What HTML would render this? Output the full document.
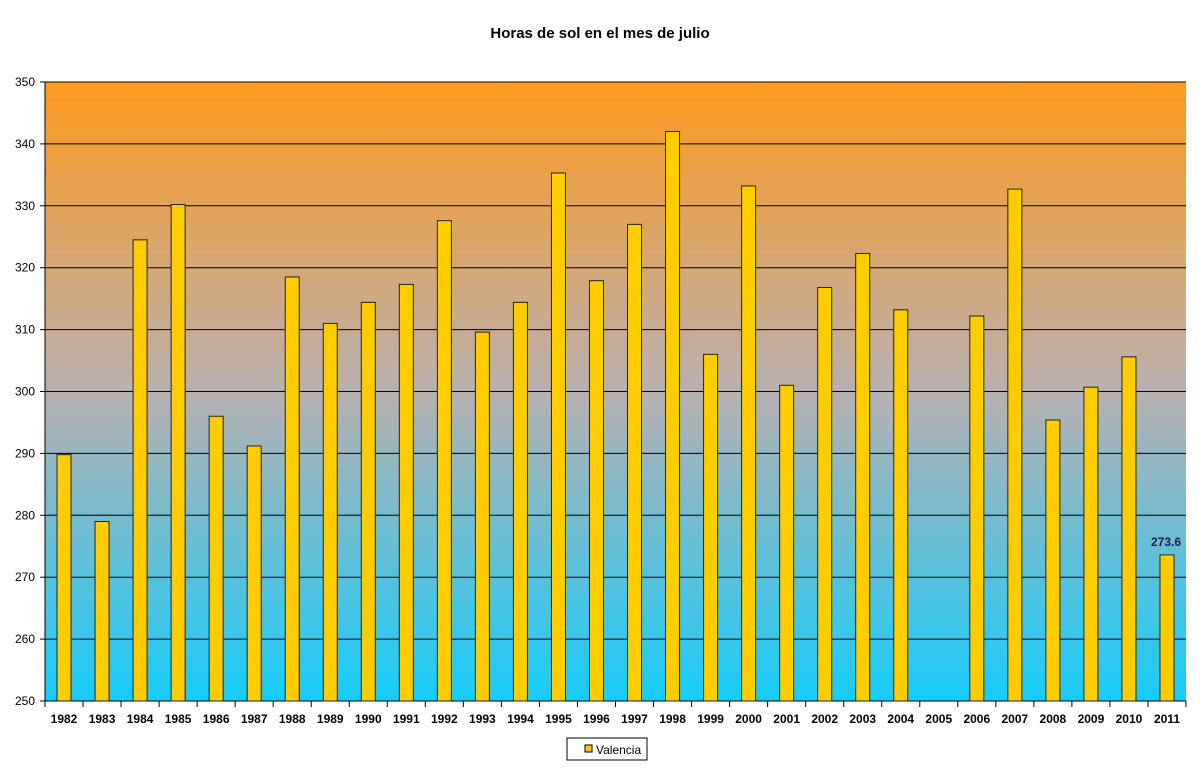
<!DOCTYPE html>
<html><head><meta charset="utf-8"><style>body{margin:0;background:#fff}svg{display:block}</style></head>
<body>
<svg id="c" width="1200" height="770" xmlns="http://www.w3.org/2000/svg" font-family="Liberation Sans, Arial, sans-serif">
<defs><linearGradient id="g" x1="0" y1="0" x2="0" y2="1">
<stop offset="0" stop-color="#ff9a1e"/><stop offset="0.5" stop-color="#b8b0b0"/><stop offset="1" stop-color="#16ccfa"/></linearGradient></defs>
<rect width="1200" height="770" fill="#fff"/>
<text x="600" y="38" text-anchor="middle" font-size="15" font-weight="bold">Horas de sol en el mes de julio</text>
<rect x="45" y="82" width="1141" height="619" fill="url(#g)"/>
<g id="grid"></g><g id="bars"></g><g id="lab"></g>
<text x="1166" y="546" text-anchor="middle" font-size="12" font-weight="bold" fill="#1a1a4a">273.6</text>
<rect x="567" y="738" width="80" height="22" fill="#fff" stroke="#000" stroke-width="1"/>
<rect x="585" y="745" width="7" height="7" fill="#ffcc00" stroke="#000" stroke-width="1"/>
<text x="596" y="754" font-size="12">Valencia</text>
</svg>
<script>
var ns="http://www.w3.org/2000/svg";
function el(p,t,a,txt){var e=document.createElementNS(ns,t);for(var k in a)e.setAttribute(k,a[k]);if(txt!=null)e.textContent=txt;document.getElementById(p).appendChild(e);}
var x0=45,x1=1186,yT=82,yB=701;function Y(v){return yB-(v-250)*(yB-yT)/100;}
for(var v=250;v<=350;v+=10){var y=Y(v);el("grid","line",{x1:x0,x2:x1,y1:y,y2:y,stroke:"#000","stroke-width":1});
el("grid","line",{x1:x0-5,x2:x0,y1:y,y2:y,stroke:"#000"});el("lab","text",{x:35,y:y+4,"text-anchor":"end","font-size":12},v);}
el("grid","line",{x1:x0,x2:x0,y1:yT,y2:yB,stroke:"#000"});
var d=[289.8,279,324.5,330.2,296,291.2,318.5,311,314.4,317.3,327.6,309.6,314.4,335.3,317.9,327,342,306,333.2,301,316.8,322.3,313.2,null,312.2,332.7,295.4,300.7,305.6,273.6];
var w=(x1-x0)/30;
for(var i=0;i<=30;i++){var x=x0+i*w;el("grid","line",{x1:x,x2:x,y1:yB,y2:yB+6,stroke:"#000"});}
for(var i=0;i<30;i++){var c=x0+(i+0.5)*w;
if(d[i]!=null){var t=Y(d[i]);el("bars","rect",{x:c-7,y:t,width:14,height:yB-t,fill:"#ffcc00",stroke:"#222","stroke-width":1});}
el("lab","text",{x:c,y:723,"text-anchor":"middle","font-size":12,"font-weight":"bold"},1982+i);}
</script>
</body></html>
